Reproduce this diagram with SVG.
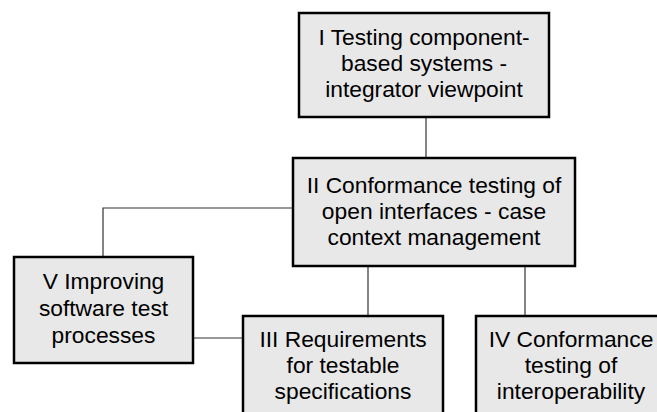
<svg xmlns="http://www.w3.org/2000/svg" width="657" height="412" viewBox="0 0 657 412">
<style>
.box{fill:#e8e8e8;stroke:#000;stroke-width:2.5}
.t{font-family:"Liberation Sans",Arial,sans-serif;font-size:22.8px;fill:#000;text-anchor:middle}
.c{fill:none;stroke:#333;stroke-width:1.2}
</style>
<rect width="657" height="412" fill="#fff"/>
<g id="connectors">
<path class="c" d="M426 117V158"/>
<path class="c" d="M293 208H103V257"/>
<path class="c" d="M368 266V316"/>
<path class="c" d="M525 266V316"/>
<path class="c" d="M193 338H243"/>
</g>
<g id="node1">
<rect class="box" x="299" y="13" width="250" height="104"/>
<text class="t" x="424" y="45">I Testing component-</text>
<text class="t" x="424" y="71">based systems -</text>
<text class="t" x="424" y="97">integrator viewpoint</text>
</g>
<g id="node2">
<rect class="box" x="293" y="158" width="282" height="108"/>
<text class="t" x="434" y="193">II Conformance testing of</text>
<text class="t" x="434" y="219">open interfaces - case</text>
<text class="t" x="434" y="245">context management</text>
</g>
<g id="node5">
<rect class="box" x="14" y="257" width="179" height="106"/>
<text class="t" x="103.5" y="289">V Improving</text>
<text class="t" x="103.5" y="316">software test</text>
<text class="t" x="103.5" y="343">processes</text>
</g>
<g id="node3">
<rect class="box" x="243" y="316" width="200" height="110"/>
<text class="t" x="343" y="347">III Requirements</text>
<text class="t" x="343" y="373">for testable</text>
<text class="t" x="343" y="399">specifications</text>
</g>
<g id="node4">
<rect class="box" x="476" y="316" width="200" height="110"/>
<text class="t" x="571" y="347">IV Conformance</text>
<text class="t" x="571" y="373">testing of</text>
<text class="t" x="571" y="399">interoperability</text>
</g>
</svg>
